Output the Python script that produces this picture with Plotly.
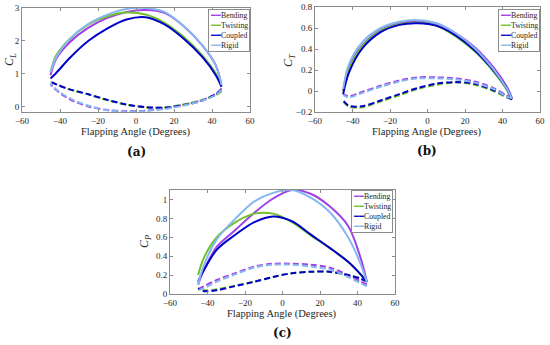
import plotly.graph_objects as go

# ---------------- data ----------------
ANG_UP = [-45, -42, -35, -25, -15, -5, 5, 15, 25, 35, 42, 45]
ANG_DN = [45, 42, 35, 25, 15, 5, -5, -15, -25, -35, -42, -45]
SERIES = ["Bending", "Twisting", "Coupled", "Rigid"]

# (a) lift coefficient
CL_UP_BENDING = [0.95, 1.45, 1.95, 2.40, 2.70, 2.88, 2.94, 2.85, 2.45, 1.85, 1.25, 0.65]
CL_UP_TWISTING = [1.05, 1.55, 2.05, 2.50, 2.75, 2.86, 2.80, 2.55, 2.12, 1.55, 1.00, 0.60]
CL_UP_COUPLED = [0.85, 1.02, 1.47, 2.00, 2.38, 2.65, 2.72, 2.50, 2.07, 1.50, 0.95, 0.60]
CL_UP_RIGID = [1.05, 1.50, 2.05, 2.52, 2.80, 2.97, 3.00, 2.88, 2.45, 1.85, 1.25, 0.65]
CL_DN_BENDING = [0.55, 0.38, 0.20, 0.05, -0.06, -0.13, -0.15, -0.11, 0.00, 0.22, 0.50, 0.68]
CL_DN_TWISTING = [0.45, 0.35, 0.20, 0.06, -0.03, -0.03, 0.05, 0.19, 0.36, 0.52, 0.68, 0.75]
CL_DN_COUPLED = [0.50, 0.37, 0.18, 0.04, -0.04, -0.02, 0.06, 0.20, 0.37, 0.52, 0.67, 0.75]
CL_DN_RIGID = [0.50, 0.35, 0.18, 0.03, -0.08, -0.14, -0.16, -0.12, 0.02, 0.25, 0.52, 0.70]

# (b) thrust coefficient
CT_UP_BENDING = [0.00, 0.22, 0.43, 0.58, 0.645, 0.665, 0.64, 0.55, 0.42, 0.23, 0.05, -0.06]
CT_UP_TWISTING = [0.00, 0.20, 0.42, 0.57, 0.635, 0.65, 0.62, 0.52, 0.38, 0.19, 0.02, -0.08]
CT_UP_COUPLED = [-0.03, 0.17, 0.40, 0.56, 0.63, 0.645, 0.62, 0.53, 0.39, 0.20, 0.03, -0.08]
CT_UP_RIGID = [0.02, 0.25, 0.46, 0.60, 0.66, 0.675, 0.645, 0.55, 0.41, 0.21, 0.03, -0.07]
CT_DN_BENDING = [-0.07, -0.04, 0.03, 0.09, 0.12, 0.13, 0.13, 0.10, 0.05, -0.01, -0.05, -0.03]
CT_DN_TWISTING = [-0.08, -0.06, 0.00, 0.06, 0.08, 0.06, 0.02, -0.04, -0.10, -0.155, -0.15, -0.10]
CT_DN_COUPLED = [-0.08, -0.05, 0.01, 0.07, 0.085, 0.07, 0.03, -0.03, -0.09, -0.145, -0.14, -0.09]
CT_DN_RIGID = [-0.07, -0.05, 0.02, 0.08, 0.11, 0.12, 0.12, 0.09, 0.04, -0.02, -0.06, -0.04]

# (c) power coefficient
CP_UP_BENDING = [0.10, 0.25, 0.50, 0.68, 0.86, 1.01, 1.10, 1.06, 0.93, 0.72, 0.36, 0.13]
CP_UP_TWISTING = [0.20, 0.38, 0.60, 0.76, 0.85, 0.85, 0.76, 0.62, 0.49, 0.34, 0.20, 0.13]
CP_UP_COUPLED = [0.13, 0.25, 0.47, 0.63, 0.76, 0.82, 0.77, 0.63, 0.49, 0.34, 0.20, 0.13]
CP_UP_RIGID = [0.10, 0.30, 0.58, 0.80, 0.98, 1.07, 1.10, 1.02, 0.87, 0.60, 0.30, 0.12]
CP_DN_BENDING = [0.10, 0.13, 0.20, 0.28, 0.31, 0.32, 0.32, 0.29, 0.22, 0.15, 0.08, 0.05]
CP_DN_TWISTING = [0.13, 0.16, 0.20, 0.235, 0.235, 0.22, 0.18, 0.13, 0.09, 0.05, 0.04, 0.06]
CP_DN_COUPLED = [0.13, 0.16, 0.20, 0.235, 0.235, 0.22, 0.18, 0.13, 0.085, 0.04, 0.03, 0.06]
CP_DN_RIGID = [0.08, 0.11, 0.18, 0.26, 0.29, 0.31, 0.31, 0.28, 0.21, 0.13, 0.06, 0.04]

COLORS = {"Bending": "#a040e8", "Twisting": "#72c02c", "Coupled": "#0000c8", "Rigid": "#86b8f0"}

PANELS = [
    ("x", "y", {
        "Bending": (CL_UP_BENDING, CL_DN_BENDING),
        "Twisting": (CL_UP_TWISTING, CL_DN_TWISTING),
        "Coupled": (CL_UP_COUPLED, CL_DN_COUPLED),
        "Rigid": (CL_UP_RIGID, CL_DN_RIGID)}),
    ("x2", "y2", {
        "Bending": (CT_UP_BENDING, CT_DN_BENDING),
        "Twisting": (CT_UP_TWISTING, CT_DN_TWISTING),
        "Coupled": (CT_UP_COUPLED, CT_DN_COUPLED),
        "Rigid": (CT_UP_RIGID, CT_DN_RIGID)}),
    ("x3", "y3", {
        "Bending": (CP_UP_BENDING, CP_DN_BENDING),
        "Twisting": (CP_UP_TWISTING, CP_DN_TWISTING),
        "Coupled": (CP_UP_COUPLED, CP_DN_COUPLED),
        "Rigid": (CP_UP_RIGID, CP_DN_RIGID)}),
]

fig = go.Figure()
for xa, ya, d in PANELS:
    for name in SERIES:
        up, dn = d[name]
        fig.add_trace(go.Scatter(x=ANG_UP, y=up, mode="lines", xaxis=xa, yaxis=ya,
                                 line=dict(color=COLORS[name], width=2, shape="spline", smoothing=0.9),
                                 showlegend=False, name=name))
        fig.add_trace(go.Scatter(x=ANG_DN, y=dn, mode="lines", xaxis=xa, yaxis=ya,
                                 line=dict(color=COLORS[name], width=2, shape="spline", smoothing=0.9,
                                           dash="6px,3px"),
                                 showlegend=False, name=name))

W, H = 550, 345
def px(x0, x1):
    return [x0 / W, x1 / W]
def py(top, bottom):
    return [1 - bottom / H, 1 - top / H]

FONT = "Liberation Serif"
axis_common = dict(showline=True, mirror="ticks", linecolor="#8c8c8c", linewidth=1,
                   ticks="inside", ticklen=3, tickcolor="#8c8c8c", showgrid=False, zeroline=False,
                   automargin=False,
                   tickfont=dict(family=FONT, size=9, color="#262626"))

fig.update_layout(
    width=W, height=H, margin=dict(l=0, r=0, t=0, b=0, autoexpand=False),
    paper_bgcolor="white", plot_bgcolor="white",
    xaxis=dict(domain=px(22, 250), range=[-60, 60], dtick=20, anchor="y", **axis_common),
    yaxis=dict(domain=py(8, 112), range=[-0.17, 3], dtick=1, anchor="x", **axis_common),
    xaxis2=dict(domain=px(315, 540), range=[-60, 60], dtick=20, anchor="y2", **axis_common),
    yaxis2=dict(domain=py(7, 112), range=[-0.2, 0.8], dtick=0.2, anchor="x2", **axis_common),
    xaxis3=dict(domain=px(170, 395), range=[-60, 60], dtick=20, anchor="y3", **axis_common),
    yaxis3=dict(domain=py(190, 294), range=[0, 1.1], dtick=0.2, anchor="x3", **axis_common),
)

def ann(x, y, text, size=11, angle=0, family=FONT, color="#262626"):
    fig.add_annotation(x=x / W, y=1 - y / H, xref="paper", yref="paper", text=text,
                       showarrow=False, textangle=angle, xanchor="center", yanchor="middle",
                       font=dict(family=family, size=size, color=color))

# axis titles
for cx, ty in [(136, 132), (427, 132), (282, 314)]:
    ann(cx, ty, "Flapping Angle (Degrees)", size=10.5)
ann(10, 60, "<i>C</i><sub><i>L</i></sub>", size=12, angle=-90)
ann(289, 60, "<i>C</i><sub><i>T</i></sub>", size=12, angle=-90)
ann(145, 242, "<i>C</i><sub><i>P</i></sub>", size=12, angle=-90)

# panel labels
for cx, ty, lab in [(136, 152, "(a)"), (427, 151, "(b)"), (282, 333, "(c)")]:
    ann(cx, ty, "<b>" + lab + "</b>", size=12, family="DejaVu Serif", color="#111111")

# legends
leg_text = "<br>".join(
    '<span style="color:%s">\u2501\u2501</span>%s' % (COLORS[n], n) for n in SERIES)
for rx, ty in [(250, 9), (540, 9), (393, 190)]:
    fig.add_annotation(x=rx / W, y=1 - ty / H, xref="paper", yref="paper", text=leg_text,
                       showarrow=False, xanchor="right", yanchor="top", align="left",
                       font=dict(family=FONT, size=7.8, color="#262626"),
                       bgcolor="white", bordercolor="#8c8c8c", borderwidth=1, borderpad=1)

fig.write_html("out.html", config={"displayModeBar": False},
               post_script="document.body.style.margin='0px';document.body.style.overflow='hidden';")
